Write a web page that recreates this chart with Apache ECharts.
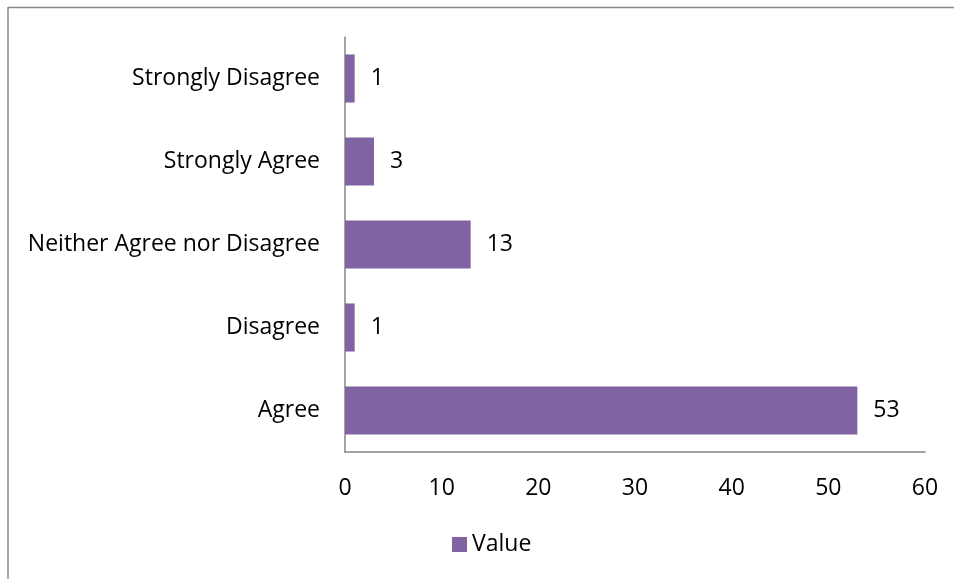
<!DOCTYPE html>
<html><head><meta charset="utf-8">
<script src="https://cdn.jsdelivr.net/npm/echarts@6/dist/echarts.min.js"></script>
<style>html,body{margin:0;padding:0;background:#fff}#c{width:954px;height:579px}</style>
</head><body><div id="c"></div>
<script>
const categories = ["Agree", "Disagree", "Neither Agree nor Disagree", "Strongly Agree", "Strongly Disagree"];
const values = [53, 1, 13, 3, 1];
const seriesName = "Value";
const chart = echarts.init(document.getElementById('c'));
const font = "'Open Sans', 'Noto Sans', sans-serif";
const fs = 23;
chart.setOption({
  animation: false,
  textStyle: {fontFamily: font},
  graphic: [
    {type: 'line', shape: {x1: 8, y1: 7.5, x2: 954, y2: 7.5}, style: {stroke: '#898989', lineWidth: 1.5}},
    {type: 'line', shape: {x1: 8, y1: 7, x2: 8, y2: 579}, style: {stroke: '#898989', lineWidth: 1.5}}
  ],
  grid: {left: 345, right: 29, top: 37, bottom: 127},
  legend: {
    bottom: 18, left: 447, itemWidth: 15, itemHeight: 15, icon: 'rect', itemGap: 5,
    textStyle: {fontSize: fs, color: '#000', fontFamily: font},
    data: [seriesName]
  },
  xAxis: {
    type: 'value', min: 0, max: 60, interval: 10,
    axisLine: {show: true, lineStyle: {color: '#868686', width: 1.5}},
    axisTick: {show: false},
    splitLine: {show: false},
    axisLabel: {fontSize: fs, color: '#000', margin: 25, fontFamily: font}
  },
  yAxis: {
    type: 'category', data: categories,
    axisLine: {show: true, lineStyle: {color: '#868686', width: 1.5}},
    axisTick: {show: false},
    axisLabel: {fontSize: fs, color: '#000', margin: 25, fontFamily: font}
  },
  series: [{
    name: seriesName, type: 'bar', data: values,
    barCategoryGap: '42%',
    itemStyle: {color: '#8064A2'},
    label: {show: true, position: 'right', distance: 16, fontSize: fs, color: '#000', fontFamily: font}
  }]
});
</script></body></html>
